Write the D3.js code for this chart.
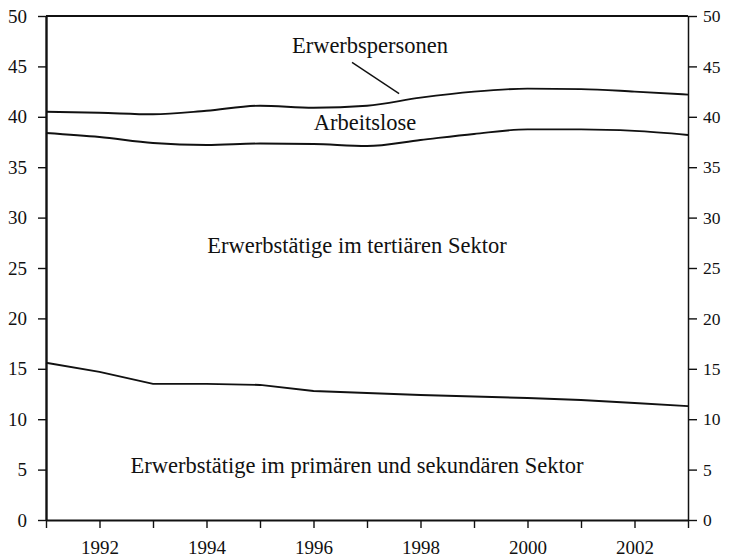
<!DOCTYPE html>
<html>
<head>
<meta charset="utf-8">
<script src="https://cdn.jsdelivr.net/npm/d3@7"></script>
<style>
  body { margin: 0; background: #fff; }
  text { font-family: "Liberation Serif", "DejaVu Serif", serif; fill: #111; }
</style>
</head>
<body>
<svg id="chart" width="729" height="559"></svg>
<script>
// years and the three boundary lines (millions)
var years = [1991, 1992, 1993, 1994, 1995, 1996, 1997, 1998, 1999, 2000, 2001, 2002, 2003];
var erwerbspersonen = [40.5, 40.4, 40.25, 40.6, 41.1, 40.9, 41.1, 41.9, 42.5, 42.8, 42.75, 42.5, 42.2];
var erwerbstaetige = [38.4, 38.0, 37.4, 37.2, 37.35, 37.3, 37.1, 37.7, 38.3, 38.75, 38.75, 38.6, 38.2];
var primSek = [15.6, 14.7, 13.5, 13.5, 13.4, 12.8, 12.6, 12.4, 12.25, 12.1, 11.9, 11.6, 11.3];
var yTicks = [0, 5, 10, 15, 20, 25, 30, 35, 40, 45, 50];
var xLabels = [1992, 1994, 1996, 1998, 2000, 2002];

var svg = d3.select("#chart"),
  L = 46, R = 688, T = 16, B = 520;

var x = d3.scaleLinear().domain([1991, 2003]).range([L, R]),
  y = d3.scaleLinear().domain([0, 50]).range([B, T]);

// frame top
svg.append("line")
  .attr("x1", L).attr("x2", R).attr("y1", T).attr("y2", T)
  .attr("stroke", "#111").attr("stroke-width", 1.8);

// left axis
var gl = svg.append("g").attr("transform", "translate(" + L + ",0)")
  .call(d3.axisLeft(y).tickValues(yTicks).tickSize(8).tickPadding(11).tickSizeOuter(0));
gl.select(".domain").attr("stroke-width", 2.4);
gl.selectAll("text").style("font-size", "19px");

// right axis
var gr = svg.append("g").attr("transform", "translate(" + R + ",0)")
  .call(d3.axisRight(y).tickValues(yTicks).tickSize(9).tickPadding(6).tickSizeOuter(0));
gr.select(".domain").attr("stroke-width", 1.5);
gr.selectAll("text").style("font-size", "17.5px");

// bottom axis
var gb = svg.append("g").attr("transform", "translate(0," + B + ")")
  .call(d3.axisBottom(x).tickValues(years).tickSize(8).tickPadding(13).tickSizeOuter(0)
    .tickFormat(function (d) { return xLabels.indexOf(d) >= 0 ? d : ""; }));
gb.select(".domain").attr("stroke-width", 2.2);
gb.selectAll("text").style("font-size", "19px");

[gl, gr, gb].forEach(function (g) {
  g.selectAll("text").style("font-family", "'Liberation Serif', serif").attr("fill", "#111");
  g.selectAll("line").attr("stroke", "#111").attr("stroke-width", 1.4);
  g.select(".domain").attr("stroke", "#111");
});

var smooth = d3.line()
  .x(function (d, i) { return x(years[i]); })
  .y(function (d) { return y(d); })
  .curve(d3.curveMonotoneX);
var straight = d3.line()
  .x(function (d, i) { return x(years[i]); })
  .y(function (d) { return y(d); });

svg.append("g").selectAll("path")
  .data([[erwerbspersonen, smooth], [erwerbstaetige, smooth], [primSek, straight]])
  .enter().append("path")
  .attr("d", function (d) { return d[1](d[0]); })
  .attr("fill", "none")
  .attr("stroke", "#111")
  .attr("stroke-width", 1.9);

// leader for Erwerbspersonen
svg.append("line")
  .attr("x1", x(1996.72)).attr("y1", y(45.4))
  .attr("x2", x(1997.6)).attr("y2", y(42.3))
  .attr("stroke", "#111").attr("stroke-width", 1.4);

var labels = [
  { t: "Erwerbspersonen", x: 370, y: 53 },
  { t: "Arbeitslose", x: 365, y: 130 },
  { t: "Erwerbstätige im tertiären Sektor", x: 357, y: 253 },
  { t: "Erwerbstätige im primären und sekundären Sektor", x: 357, y: 473 }
];
svg.append("g").selectAll("text")
  .data(labels)
  .enter().append("text")
  .attr("x", function (d) { return d.x; })
  .attr("y", function (d) { return d.y; })
  .attr("text-anchor", "middle")
  .style("font-size", "22.5px")
  .text(function (d) { return d.t; });
</script>
</body>
</html>
